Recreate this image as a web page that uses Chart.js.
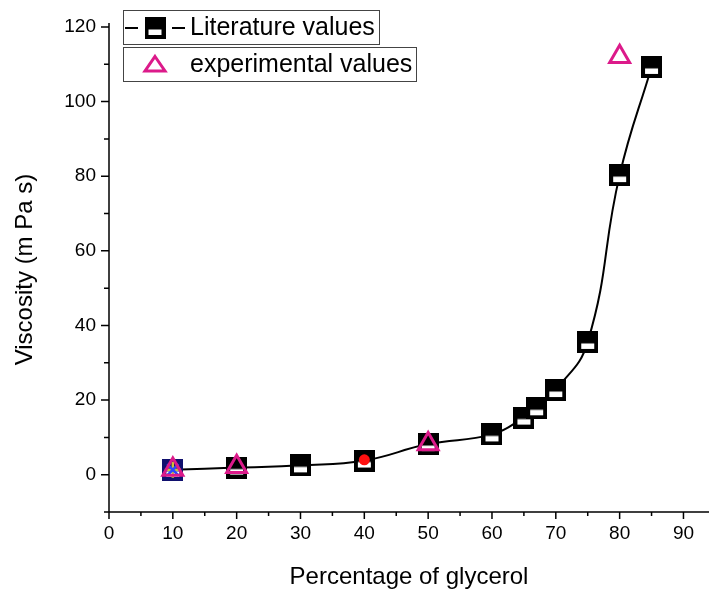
<!DOCTYPE html>
<html>
<head>
<meta charset="utf-8">
<script src="https://cdn.jsdelivr.net/npm/chart.js@4/dist/chart.umd.min.js"></script>
<style>
  html, body { margin: 0; padding: 0; background: #fff; }
  #wrap { width: 709px; height: 592px; }
</style>
</head>
<body>
<div id="wrap"><canvas id="chart" width="709" height="592"></canvas></div>
<script>
// Glycerol content (%) and viscosity (mPa·s)
const glycerolPct    = [10, 20, 30, 40, 50, 60, 65, 67, 70, 75, 80, 85];
const literatureVisc = [1.3, 1.9, 2.5, 3.8, 8.2, 10.8, 15.3, 17.8, 22.7, 35.6, 80.3, 109.3];

const experimentalPct  = [10, 20, 50, 80];
const experimentalVisc = [1.4, 2.1, 8.2, 112];

// extra single measurements overlaid on the curve
const redDotPct  = [40];
const redDotVisc = [4.0];
const crossPct   = [10];
const crossVisc  = [1.3];

const xTickValues = [0, 10, 20, 30, 40, 50, 60, 70, 80, 90];
const yTickValues = [0, 20, 40, 60, 80, 100, 120];

const legendLabels = ['Literature values', 'experimental values'];

const MAGENTA = '#dc1a8a';
const FONT = "'Liberation Sans', Arial, sans-serif";

function pts(xs, ys) { return xs.map((x, i) => ({ x: x, y: ys[i] })); }

// half-filled square marker (solid top, white slot at bottom)
function halfSquare(color) {
  const c = document.createElement('canvas');
  c.width = 21; c.height = 22;
  const g = c.getContext('2d');
  g.fillStyle = color;
  g.fillRect(0, 0, 21, 22);
  g.fillStyle = '#fff';
  g.fillRect(4, 12.5, 13, 5.5);
  return c;
}
const squareBlack = halfSquare('#000');
const squareNavy = halfSquare('#10106e');

const axisFrame = {
  id: 'axisFrame',
  afterDraw(chart) {
    const ctx = chart.ctx;
    const xs = chart.scales.x, ys = chart.scales.y;
    const a = chart.chartArea;
    ctx.save();
    ctx.strokeStyle = '#000';
    ctx.lineWidth = 1.5;
    ctx.beginPath();
    ctx.moveTo(a.left, a.bottom); ctx.lineTo(a.right, a.bottom);
    ctx.moveTo(a.left, a.bottom); ctx.lineTo(a.left, a.top - 4);
    // x ticks (outward)
    for (let v = 0; v <= 90; v += 5) {
      const px = xs.getPixelForValue(v);
      const len = v % 10 === 0 ? 7 : 4;
      ctx.moveTo(px, a.bottom); ctx.lineTo(px, a.bottom + len);
    }
    // y ticks (outward)
    for (let v = -10; v <= 120; v += 10) {
      const py = ys.getPixelForValue(v);
      const len = (v % 20 === 0) ? 8 : 5;
      ctx.moveTo(a.left, py); ctx.lineTo(a.left - len, py);
    }
    ctx.stroke();

    // legend boxes
    ctx.lineWidth = 1;
    ctx.strokeStyle = '#444';
    ctx.strokeRect(123.5, 10.5, 256, 34);
    ctx.strokeRect(123.5, 47.5, 293, 34);

    ctx.strokeStyle = '#000';
    ctx.lineWidth = 2;
    ctx.beginPath();
    ctx.moveTo(125, 28); ctx.lineTo(138, 28);
    ctx.moveTo(172, 28); ctx.lineTo(185, 28);
    ctx.stroke();
    ctx.drawImage(squareBlack, 144.5, 17);

    // hollow triangle
    ctx.strokeStyle = MAGENTA;
    ctx.lineWidth = 3;
    ctx.lineJoin = 'miter';
    ctx.beginPath();
    ctx.moveTo(155, 56.5);
    ctx.lineTo(165, 71);
    ctx.lineTo(145, 71);
    ctx.closePath();
    ctx.stroke();

    ctx.fillStyle = '#000';
    ctx.font = '25px ' + FONT;
    ctx.textBaseline = 'middle';
    ctx.textAlign = 'left';
    ctx.fillText(legendLabels[0], 190, 28);
    ctx.fillText(legendLabels[1], 190, 65);
    ctx.restore();
  }
};

Chart.defaults.color = '#000';
Chart.defaults.font.family = FONT;

new Chart(document.getElementById('chart'), {
  type: 'scatter',
  data: {
    datasets: [
      {
        label: legendLabels[1],
        data: pts(experimentalPct, experimentalVisc),
        pointStyle: 'triangle',
        pointRadius: 11.5,
        borderWidth: 3,
        borderColor: MAGENTA,
        backgroundColor: 'rgba(0,0,0,0)',
        showLine: false,
        clip: false,
        order: 0
      },
      {
        label: 'red',
        data: pts(redDotPct, redDotVisc),
        pointStyle: 'circle',
        pointRadius: 5.5,
        borderWidth: 0,
        backgroundColor: '#ff1010',
        showLine: false,
        order: 1
      },
      {
        label: 'x',
        data: pts(crossPct, crossVisc),
        pointStyle: 'crossRot',
        pointRadius: 8,
        borderWidth: 2.5,
        borderColor: '#2a48ff',
        showLine: false,
        order: 2
      },
      {
        label: 'plus',
        data: pts(crossPct, crossVisc),
        pointStyle: 'cross',
        pointRadius: 8,
        borderWidth: 2.5,
        borderColor: '#c9c23a',
        showLine: false,
        order: 3
      },
      {
        label: 'navy',
        data: pts(crossPct, crossVisc),
        pointStyle: squareNavy,
        showLine: false,
        order: 4
      },
      {
        label: legendLabels[0],
        data: pts(glycerolPct, literatureVisc),
        pointStyle: squareBlack,
        showLine: true,
        borderColor: '#000',
        borderWidth: 2,
        tension: 0.45,
        clip: false,
        order: 5
      }
    ]
  },
  options: {
    responsive: false,
    animation: false,
    events: [],
    layout: { autoPadding: false, padding: { top: 27, right: 0, left: 0, bottom: 0 } },
    plugins: {
      legend: { display: false },
      tooltip: { enabled: false }
    },
    scales: {
      x: {
        type: 'linear',
        min: 0,
        max: 94,
        afterFit: s => { s.height = 80; },
        afterBuildTicks: s => { s.ticks = xTickValues.map(v => ({ value: v })); },
        grid: { display: false, drawTicks: false },
        border: { display: false },
        ticks: { font: { size: 19 }, padding: 10, maxRotation: 0, autoSkip: false },
        title: {
          display: true,
          text: 'Percentage of glycerol',
          font: { size: 24 },
          padding: { top: 0, bottom: 0 }
        }
      },
      y: {
        min: -10,
        max: 120,
        afterFit: s => { s.width = 109; },
        afterBuildTicks: s => { s.ticks = yTickValues.map(v => ({ value: v })); },
        grid: { display: false, drawTicks: false },
        border: { display: false },
        ticks: { font: { size: 19 }, padding: 13, autoSkip: false },
        title: {
          display: true,
          text: 'Viscosity (m Pa s)',
          font: { size: 24 },
          padding: { top: 11, bottom: 0 }
        }
      }
    }
  },
  plugins: [axisFrame]
});
</script>
</body>
</html>
